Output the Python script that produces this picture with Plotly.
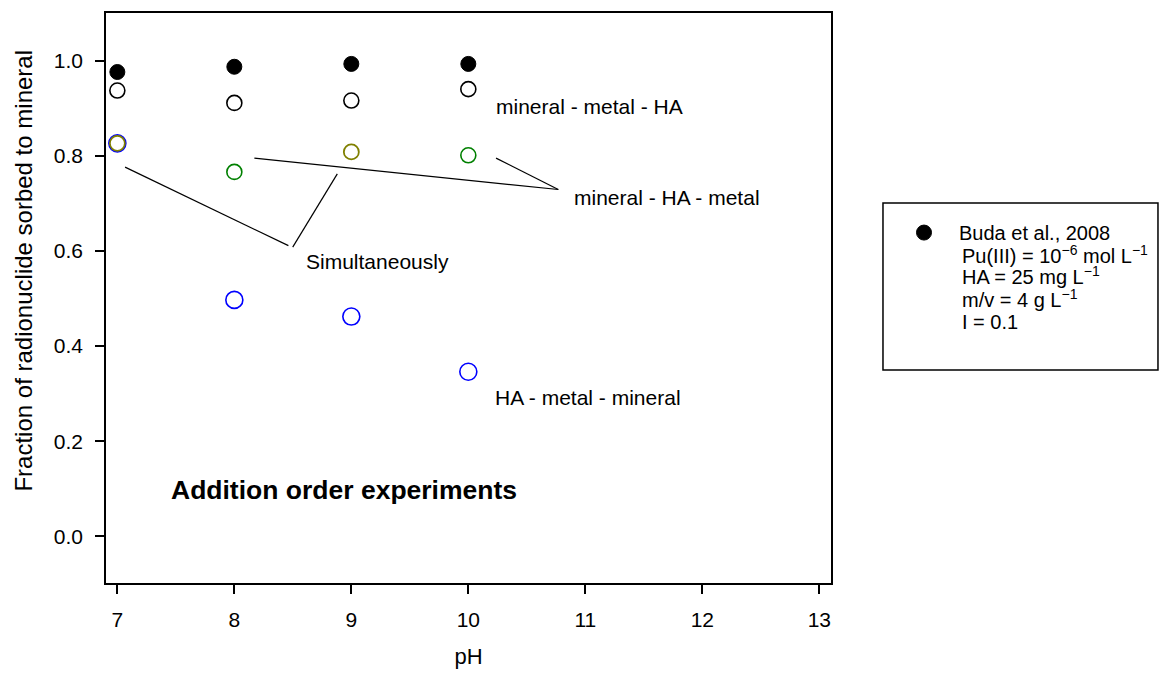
import plotly.graph_objects as go

# ---------------- data ----------------
ph = [7, 8, 9, 10]
buda_sorbed = [0.976, 0.987, 0.993, 0.993]          # filled black
mineral_metal_ha = [0.937, 0.911, 0.916, 0.940]     # open black
ha_metal_mineral = [0.826, 0.497, 0.462, 0.346]     # open blue
ph_mineral_ha_metal = [8, 10]
mineral_ha_metal = [0.766, 0.801]                   # open green
ph_simultaneous = [7, 9]
simultaneous = [0.826, 0.808]                       # open olive

x_ticks = [7, 8, 9, 10, 11, 12, 13]
y_ticks = [0.0, 0.2, 0.4, 0.6, 0.8, 1.0]

# leader lines of the annotations (data coordinates: x0, y0, x1, y1)
leaders = [
    (7.066, 0.776, 8.462, 0.611),
    (8.880, 0.762, 8.499, 0.608),
    (8.171, 0.795, 10.769, 0.729),
    (10.237, 0.795, 10.769, 0.729),
]
labels = [
    ("mineral - metal - HA", 10.22, 0.903),
    ("mineral - HA - metal", 10.889, 0.713),
    ("Simultaneously", 8.596, 0.577),
    ("HA - metal - mineral", 10.21, 0.292),
]

FONT = "Liberation Sans, Arial, sans-serif"

fig = go.Figure()

fig.add_trace(go.Scatter(
    x=ph, y=buda_sorbed, mode="markers", name="Buda et al., 2008",
    marker=dict(symbol="circle", size=15, color="black",
                line=dict(color="black", width=1)),
))
fig.add_trace(go.Scatter(
    x=ph, y=mineral_metal_ha, mode="markers", showlegend=False,
    marker=dict(symbol="circle-open", size=15, color="black",
                line=dict(color="black", width=1.6)),
))
fig.add_trace(go.Scatter(
    x=ph, y=ha_metal_mineral, mode="markers", showlegend=False,
    marker=dict(symbol="circle-open", size=17, color="#0000ff",
                line=dict(color="#0000ff", width=1.6)),
))
fig.add_trace(go.Scatter(
    x=ph_mineral_ha_metal, y=mineral_ha_metal, mode="markers", showlegend=False,
    marker=dict(symbol="circle-open", size=15, color="#008000",
                line=dict(color="#008000", width=1.6)),
))
fig.add_trace(go.Scatter(
    x=ph_simultaneous, y=simultaneous, mode="markers", showlegend=False,
    marker=dict(symbol="circle-open", size=15, color="#808000",
                line=dict(color="#808000", width=1.8)),
))

shapes = []
for x0, y0, x1, y1 in leaders:
    shapes.append(dict(type="line", xref="x", yref="y", x0=x0, y0=y0, x1=x1, y1=y1,
                       line=dict(color="black", width=1.2)))
# legend box
shapes.append(dict(type="rect", xref="paper", yref="paper",
                   x0=1.0717, x1=1.451, y0=0.3737, y1=0.6667,
                   line=dict(color="black", width=1.5), fillcolor="rgba(0,0,0,0)"))

annotations = []
for txt, x, y in labels:
    annotations.append(dict(text=txt, x=x, y=y, xref="x", yref="y",
                            xanchor="left", yanchor="middle", showarrow=False,
                            font=dict(family=FONT, size=21, color="black")))
annotations.append(dict(text="<b>Addition order experiments</b>", x=7.44, y=0.098,
                        xref="x", yref="y", xanchor="left", yanchor="middle",
                        showarrow=False, font=dict(family=FONT, size=26.5, color="black")))
# y-axis title
annotations.append(dict(text="Fraction of radionuclide sorbed to mineral",
                        x=-0.1138, y=0.549, xref="paper", yref="paper",
                        xanchor="center", yanchor="middle", textangle=-90,
                        showarrow=False, font=dict(family=FONT, size=24, color="black")))
# legend extra lines
legend_lines = [
    ("Pu(III) = 10<sup>\u22126</sup> mol L<sup>\u22121</sup>", 0.5767),
    ("HA = 25 mg L<sup>\u22121</sup>", 0.5391),
    ("m/v = 4 g L<sup>\u22121</sup>", 0.5000),
    ("I = 0.1", 0.4579),
]
for txt, y in legend_lines:
    annotations.append(dict(text=txt, x=1.178, y=y, xref="paper", yref="paper",
                            xanchor="left", yanchor="middle", showarrow=False,
                            font=dict(family=FONT, size=20, color="black")))

fig.update_layout(
    width=1160, height=673,
    margin=dict(l=106, r=329, t=13, b=90),
    paper_bgcolor="white", plot_bgcolor="white",
    font=dict(family=FONT, size=21, color="black"),
    shapes=shapes, annotations=annotations,
    showlegend=True,
    legend=dict(x=1.0800, y=0.649, xanchor="left", yanchor="top",
                itemwidth=60,
                bgcolor="rgba(0,0,0,0)", borderwidth=0,
                font=dict(family=FONT, size=20, color="black")),
)
fig.update_xaxes(
    range=[6.903, 13.10], tickvals=x_ticks, ticktext=[str(v) for v in x_ticks],
    showline=True, linecolor="black", linewidth=1.5, mirror=True,
    ticks="outside", ticklen=9, tickwidth=1.5, tickcolor="black",
    showgrid=False, zeroline=False, automargin=False,
    title=dict(text="pH", font=dict(family=FONT, size=22), standoff=19),
    tickfont=dict(family=FONT, size=21), ticklabelstandoff=8,
)
fig.update_yaxes(
    range=[-0.098, 1.1], tickvals=y_ticks, ticktext=[f"{v:.1f}" for v in y_ticks],
    showline=True, linecolor="black", linewidth=1.5, mirror=True,
    ticks="outside", ticklen=9, tickwidth=1.5, tickcolor="black",
    showgrid=False, zeroline=False, automargin=False,
    tickfont=dict(family=FONT, size=21), ticklabelstandoff=8,
)

fig.write_html("out.html")
